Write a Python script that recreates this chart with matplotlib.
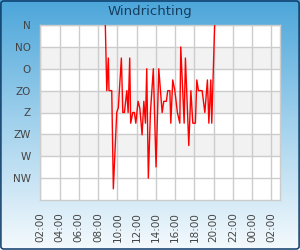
import matplotlib
matplotlib.use("Agg")
import matplotlib.pyplot as plt
import matplotlib.dates as mdates
import numpy as np
import pandas as pd
from matplotlib.patches import FancyBboxPatch
from matplotlib.colors import LinearSegmentedColormap

# ---- data ----
title = "Windrichting"
directions = ["N", "NO", "O", "ZO", "Z", "ZW", "W", "NW"]
direction_deg = [0, 45, 90, 135, 180, 225, 270, 315]
times = ["08:45", "08:54", "09:04", "09:08", "09:25", "09:35", "09:56", "10:06",
         "10:25", "10:34", "10:44", "10:59", "11:07", "11:17", "11:23", "11:36",
         "11:46", "11:55", "12:09", "12:20", "12:34", "12:45", "12:55", "13:03",
         "13:13", "13:26", "13:44", "14:01", "14:18", "14:39", "14:49", "15:05",
         "15:14", "15:27", "15:33", "15:45", "15:58", "16:14", "16:29", "16:35",
         "16:56", "17:04", "17:25", "17:38", "17:50", "18:06", "18:15", "18:25",
         "18:48", "19:05", "19:21", "19:30", "19:42", "19:48", "20:06"]
wind_deg = [0, 135, 68, 135, 135, 337, 180, 170,
            68, 180, 180, 135, 180, 68, 202, 180,
            180, 202, 157, 171, 226, 157, 202, 90,
            315, 180, 90, 292, 90, 180, 157, 157,
            135, 135, 202, 113, 135, 180, 202, 45,
            202, 68, 248, 135, 202, 202, 113, 135,
            135, 180, 113, 202, 113, 202, 0]
x_start = "2024-01-01 02:00"
x_end = "2024-01-02 02:55"
tick_times = pd.date_range("2024-01-01 02:00", "2024-01-02 02:00", freq="2h")

t = pd.to_datetime(["2024-01-01 " + s for s in times])

W, H = 300, 250
fig = plt.figure(figsize=(W / 100, H / 100), dpi=100)

# background gradient
bg = fig.add_axes([0, 0, 1, 1], zorder=-10)
cmap = LinearSegmentedColormap.from_list("bg", ["#4ca6da", "#a3d2ed", "#f5fafd"])
grad = np.linspace(0, 1, 256).reshape(-1, 1)
bg.imshow(grad, aspect="auto", cmap=cmap, extent=[0, 1, 0, 1], origin="upper")
bg.set_xlim(0, 1); bg.set_ylim(0, 1)
bg.axis("off")
frame = FancyBboxPatch((0.003, 0.004), 0.994, 0.992,
                       boxstyle="round,pad=0,rounding_size=0.01",
                       transform=bg.transAxes, fill=False,
                       edgecolor="#0b3a66", linewidth=1.1)
bg.add_patch(frame)

fig.text(0.5, 1 - 12 / H, title, ha="center", va="center",
         fontsize=9.5, color="#173d5e")

ax = fig.add_axes([40.3 / W, 1 - 200 / H, 240 / W, 175 / H])
ax.set_facecolor("white")
# alternate bands
for i in range(1, len(direction_deg) - 1, 2):
    ax.axhspan(direction_deg[i], direction_deg[i + 1], color="#f2f2f2", zorder=0, lw=0)

ax.plot(t, wind_deg, color="#ff0000", lw=1.0, zorder=3)

ax.set_ylim(360, 0)
ax.set_yticks(direction_deg)
ax.set_yticklabels(directions)
ax.set_xlim(pd.Timestamp(x_start), pd.Timestamp(x_end))
ax.set_xticks(tick_times)
ax.xaxis.set_major_formatter(mdates.DateFormatter("%H:%M"))
ax.tick_params(axis="x", rotation=90, length=0, pad=9, labelsize=7.5, labelcolor="#444444")
ax.tick_params(axis="y", length=0, pad=7, labelsize=7.5, labelcolor="#444444")
ax.grid(True, color="#cccccc", lw=1, zorder=1)
ax.set_axisbelow(True)
for s in ax.spines.values():
    s.set_color("#cccccc")
    s.set_linewidth(1)

fig.savefig("out.png", dpi=100)
